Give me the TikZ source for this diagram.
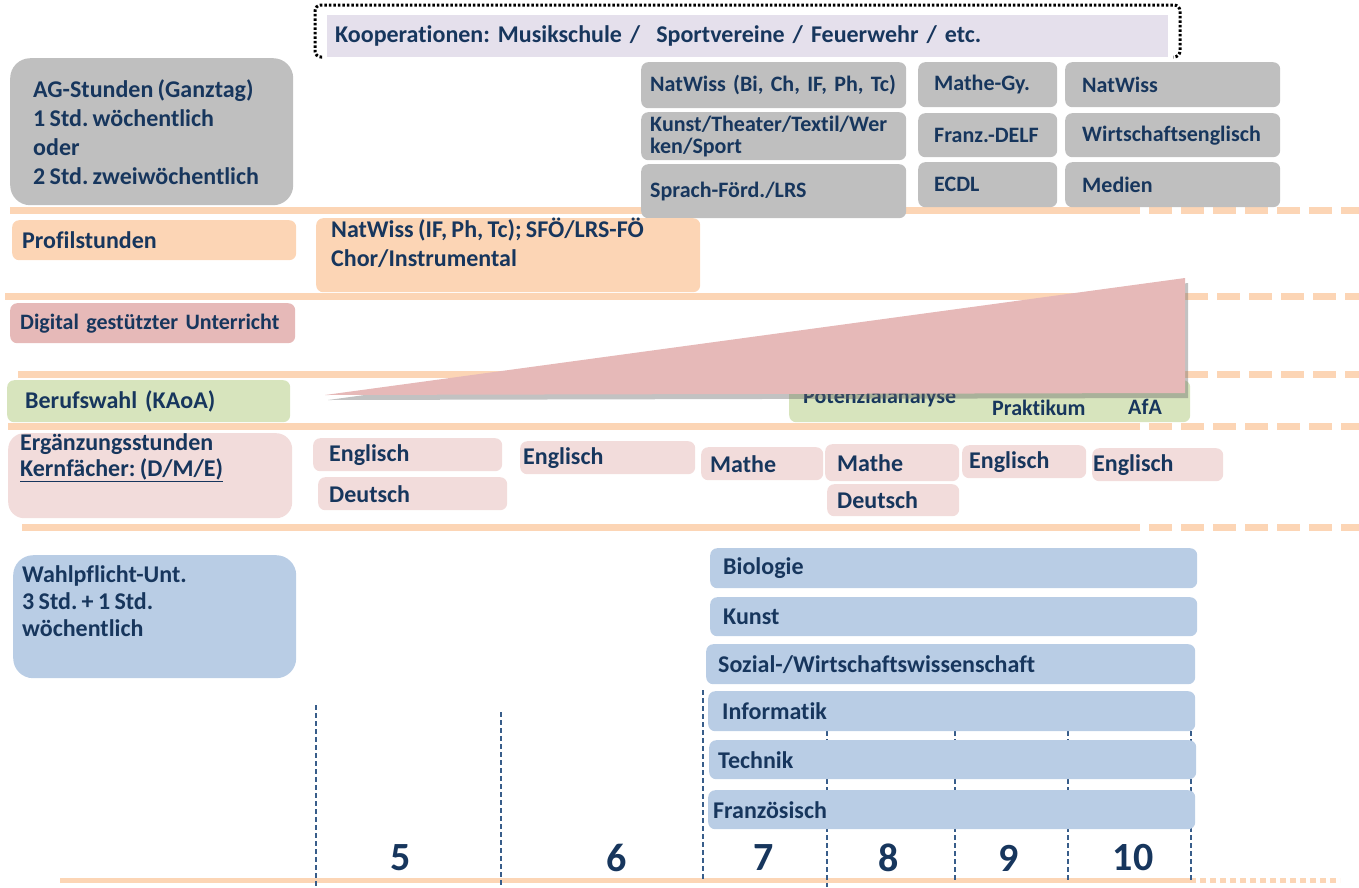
\documentclass[tikz,border=0pt]{standalone}
\usepackage{fontspec}
\setmainfont{Carlito}[WordSpace=0.8, Ligatures=NoCommon]
\frenchspacing
\usetikzlibrary{positioning, shadows}

\definecolor{navy}{RGB}{23,54,93}
\definecolor{boxgray}{RGB}{191,191,191}
\definecolor{peach}{RGB}{252,213,181}
\definecolor{rosedark}{RGB}{230,185,184}
\definecolor{roselight}{RGB}{242,220,219}
\definecolor{sage}{RGB}{215,228,189}
\definecolor{skyblue}{RGB}{185,205,229}
\definecolor{lavender}{RGB}{229,224,236}
\definecolor{gridblue}{RGB}{56,93,138}

\begin{document}
\begin{tikzpicture}[x=1pt, y=-1pt, font=\bfseries\fontsize{24}{26}\selectfont, text=navy]
	\tikzstyle{box}=[anchor=north west, rounded corners=7pt, inner xsep=10pt, inner ysep=0pt, align=left]
	\tikzstyle{grau}=[box, fill=boxgray, font=\bfseries\fontsize{22}{22}\selectfont]
	\tikzstyle{pfirsich}=[box, fill=peach]
	\tikzstyle{rosa}=[box, fill=rosedark]
	\tikzstyle{rosalicht}=[box, fill=roselight]
	\tikzstyle{gruen}=[box, fill=sage]
	\tikzstyle{blau}=[box, fill=skyblue]
	\tikzstyle{lbl}=[inner sep=0pt, align=left]
	\tikzstyle{band}=[line width=7pt, draw=peach]
	\tikzstyle{bandgap}=[band, dash pattern=on 23pt off 9pt]
	\tikzstyle{stufe}=[draw=gridblue, line width=1.2pt, dash pattern=on 5pt off 3pt]
	\tikzstyle{jahr}=[inner sep=0pt, font=\bfseries\fontsize{40}{44}\selectfont]

	\useasboundingbox (0,0) rectangle (1359,887);

	% horizontal bands
	\draw[band] (10,210) -- (1117,210);		\draw[bandgap] (1117,210) -- (1359,210);
	\draw[band] (5,296) -- (1185,296);		\draw[bandgap] (1185,296) -- (1359,296);
	\draw[band] (18,374) -- (1185,374);		\draw[bandgap] (1185,374) -- (1359,374);
	\draw[band] (8,426) -- (1117,426);		\draw[bandgap] (1117,426) -- (1359,426);
	\draw[band] (22,527) -- (1117,527);		\draw[bandgap] (1117,527) -- (1359,527);
	\draw[band, line width=5pt] (60,880) -- (1190,880);
	\draw[band, line width=5pt, dash pattern=on 6pt off 4pt] (1190,880) -- (1340,880);

	% grade separators
	\draw[stufe] (316,705) -- (316,887);
	\draw[stufe] (501,712) -- (501,887);
	\draw[stufe] (703,690) -- (703,880);
	\draw[stufe] (827,731) -- (827,887);
	\draw[stufe] (955,731) -- (955,880);
	\draw[stufe] (1068,731) -- (1068,880);
	\draw[stufe] (1191,731) -- (1191,880);

	% cooperations
	\draw[line width=3pt, dash pattern=on 2.5pt off 2pt, rounded corners=6pt] (322,57) -- (315,57) -- (315,5) -- (1180,5) -- (1180,57) -- (1173,57);
	\node[box, fill=lavender, rounded corners=0pt, inner xsep=8pt, text width=825pt, minimum height=42pt] (koop) at (327,15) {Kooperationen: Musikschule /\ \ Sportvereine / Feuerwehr / etc.};

	% AG row
	\node[grau, rounded corners=20pt, minimum width=283pt, minimum height=147pt] (ag) at (10,58) {};
	\node[lbl, right=23pt of ag.west, font=\bfseries\fontsize{24}{29}\selectfont] (agtext) {AG-Stunden (Ganztag)\\1 Std. w\"ochentlich\\oder\\2 Std. zweiw\"ochentlich};
	\node[grau, inner xsep=9pt, text width=247pt, minimum height=46pt] (natbi) at (641,62) {NatWiss (Bi, Ch, IF, Ph, Tc)};
	\node[grau, inner xsep=9pt, text width=247pt, minimum height=48pt] (kunst) at (641,112) {Kunst/Theater/Textil/Wer\\ken/Sport};
	\node[grau, inner xsep=9pt, text width=247pt, minimum height=54pt] (sprach) at (641,164) {Sprach-F\"ord./LRS};
	\node[grau, inner xsep=16pt, text width=107pt, minimum height=45pt] (mathegy) at (918,62) {Mathe-Gy.};
	\node[grau, inner xsep=16pt, text width=107pt, minimum height=44pt] (delf) at (918,113) {Franz.-DELF};
	\node[grau, inner xsep=16pt, text width=107pt, minimum height=45pt] (ecdl) at (918,162) {ECDL};
	\node[grau, inner xsep=17pt, text width=181pt, minimum height=45pt] (natw) at (1065,62) {NatWiss};
	\node[grau, inner xsep=17pt, text width=181pt, minimum height=44pt] (wienglisch) at (1065,113) {Wirtschaftsenglisch};
	\node[grau, inner xsep=17pt, text width=181pt, minimum height=45pt] (medien) at (1065,162) {Medien};

	% profile row
	\node[pfirsich, text width=264pt, minimum height=40pt] (profil) at (12,220) {Profilstunden};
	\node[pfirsich, minimum width=384pt, minimum height=74pt] (profnat) at (316,218) {};
	\node[lbl, below right=0pt and 15pt of profnat.north west, font=\bfseries\fontsize{24}{29}\selectfont] (profnattext) {NatWiss (IF, Ph, Tc); SF\"O/LRS-F\"O\\Chor/Instrumental};

	% digital / career row
	\node[rosa, text width=265pt, minimum height=40pt, font=\bfseries\fontsize{22}{26}\selectfont] (digital) at (10,303) {Digital gest\"utzter Unterricht};
	\node[gruen, inner xsep=18pt, text width=247pt, minimum height=42pt] (beruf) at (7,380) {Berufswahl (KAoA)};
	\node[gruen, minimum width=401pt, minimum height=42pt] (potenz) at (789,380) {};
	\node[lbl, anchor=west, font=\bfseries\fontsize{22}{26}\selectfont] (potana) at (803,398) {Potenzialanalyse};
	\node[lbl, anchor=west, font=\bfseries\fontsize{22}{26}\selectfont] (praktikum) at (992,408) {Praktikum};
	\node[lbl, anchor=west, font=\bfseries\fontsize{22}{26}\selectfont] (afa) at (1128,407) {AfA};
	\fill[rosedark, drop shadow={shadow xshift=3pt, shadow yshift=-5pt, opacity=0.4, fill=black!60}] (325,395) -- (1185,278) -- (1185,393) -- cycle;

	% supplementary lessons
	\node[rosalicht, rounded corners=16pt, minimum width=284pt, minimum height=85pt] (erg) at (8,433) {};
	\node[lbl, below right=0pt and 12pt of erg.north west] (ergtext) {Erg\"anzungsstunden\\\underline{Kernf\"acher: (D/M/E)}};
	\node[rosalicht, inner xsep=16pt, text width=157pt, minimum height=33pt] (englA) at (313,438) {Englisch};
	\node[rosalicht, inner xsep=11pt, text width=167pt, minimum height=33pt] (deutA) at (318,477) {Deutsch};
	\node[rosalicht, inner xsep=3pt, text width=169pt, minimum height=33pt] (englB) at (520,441) {Englisch};
	\node[rosalicht, inner xsep=9pt, text width=104pt, minimum height=33pt] (matheA) at (701,447) {Mathe};
	\node[rosalicht, inner xsep=12pt, text width=110pt, minimum height=37pt] (matheB) at (825,444) {Mathe};
	\node[rosalicht, inner xsep=10pt, text width=112pt, minimum height=32pt] (deutB) at (827,484) {Deutsch};
	\node[rosalicht, inner xsep=7pt, text width=110pt, minimum height=33pt] (englC) at (962,445) {Englisch};
	\node[rosalicht, inner xsep=1pt, text width=129pt, minimum height=33pt] (englD) at (1092,448) {Englisch};

	% compulsory electives
	\node[blau, rounded corners=20pt, minimum width=283pt, minimum height=123pt] (wpu) at (13,555) {};
	\node[lbl, below right=10pt and 9pt of wpu.north west, font=\bfseries\fontsize{24}{27}\selectfont] (wputext) {Wahlpflicht-Unt.\\3 Std. + 1 Std.\\w\"ochentlich};
	\node[blau, inner xsep=13pt, text width=461pt, minimum height=40pt] (bio) at (710,548) {Biologie};
	\node[blau, inner xsep=13pt, text width=461pt, minimum height=39pt] (kunstwp) at (710,597) {Kunst};
	\node[blau, inner xsep=12pt, text width=465pt, minimum height=40pt] (sowi) at (706,644) {Sozial-/Wirtschaftswissenschaft};
	\node[blau, inner xsep=14pt, text width=459pt, minimum height=40pt] (info) at (708,691) {Informatik};
	\node[blau, inner xsep=9pt, text width=469pt, minimum height=39pt] (technik) at (709,740) {Technik};
	\node[blau, inner xsep=5pt, text width=477pt, minimum height=39pt] (franz) at (708,790) {Franz\"osisch};

	% grades
	\node[jahr] (k5) at (401,858) {5};
	\node[jahr] (k6) at (617,858) {6};
	\node[jahr] (k7) at (764,858) {7};
	\node[jahr] (k8) at (889,858) {8};
	\node[jahr] (k9) at (1009,858) {9};
	\node[jahr] (k10) at (1133,858) {10};
\end{tikzpicture}
\end{document}
